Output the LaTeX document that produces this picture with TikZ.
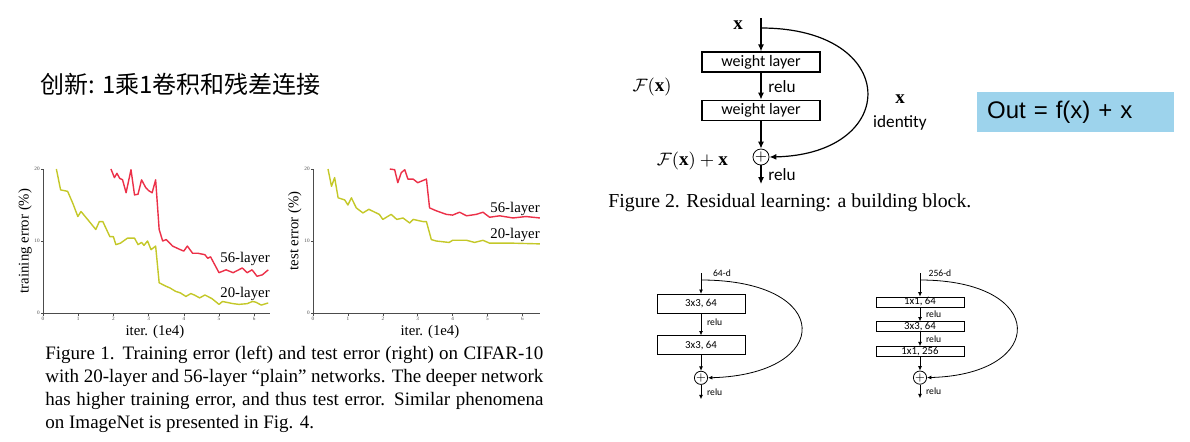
\documentclass[tikz,border=0pt]{standalone}
\usepackage{fontspec}
\setmainfont{Liberation Serif}
\setsansfont{Carlito}
\newfontfamily\cjkfont{Noto Sans CJK SC}
\newfontfamily\arialfont{Liberation Sans}
\definecolor{errred}{RGB}{236,48,72}
\definecolor{erryellow}{RGB}{196,200,40}
\definecolor{outblue}{RGB}{157,211,236}
\usetikzlibrary{arrows.meta,positioning}

\begin{document}
\begin{tikzpicture}[x=0.5pt, y=-0.5pt,
  wbox/.style={draw, line width=0.6pt, minimum width=59pt, minimum height=10pt, inner sep=0pt, font=\sffamily\fontsize{8}{9}\selectfont},
  sbox/.style={draw, line width=0.4pt, minimum width=44pt, inner sep=0pt, font=\sffamily\fontsize{5.4}{6}\selectfont},
  addc/.style={draw, circle, inner sep=0pt},
  flow/.style={-{Latex[length=3.5pt,width=3pt]}, line width=0.6pt},
  sflow/.style={-{Latex[length=2.2pt,width=2pt]}, line width=0.4pt},
  lbl/.style={font=\sffamily\fontsize{8.6}{9}\selectfont},
  slbl/.style={font=\sffamily\fontsize{4.8}{5}\selectfont, inner sep=0pt},
  mlbl/.style={font=\fontsize{9.5}{10}\selectfont},
  curve20/.style={erryellow, line width=0.7pt, line join=round},
  curve56/.style={errred, line width=0.7pt, line join=round},
  axisline/.style={black!70, line width=0.5pt},
  ticklbl/.style={font=\fontsize{2.6}{3}\selectfont, inner sep=0.6pt, black!70},
  axlbl/.style={font=\fontsize{7.4}{8}\selectfont, inner sep=0pt}]

  \path[use as bounding box, fill=white] (0,0) rectangle (1190,441);

  % title
  \node[anchor=west, inner sep=0pt, font=\cjkfont\fontsize{12}{14}\selectfont] (title) at (40,84) {创新: 1乘1卷积和残差连接};

  % training error plot
  \begin{scope}[shift={(21.5pt,-156.5pt)}, x=17.6pt, y=3.6pt]
    \draw[axisline] (0,20) -- (0,0) -- (6.45,0);
    \foreach \i in {0,...,6} {
      \draw[axisline, line width=0.3pt] (\i,0) -- (\i,-0.4);
      \node[ticklbl, below] (ltx\i) at (\i,-0.3) {\i};
    }
    \foreach \v in {0,10,20} {
      \draw[axisline, line width=0.3pt] (0,\v) -- (-0.05,\v);
      \node[ticklbl, left] (lty\v) at (-0.05,\v) {\v};
    }
    \draw[curve20] plot coordinates {(0.38,20) (0.5,17.1) (0.7,16.9) (0.85,15.2) (0.99,13.4) (1.08,14.1) (1.3,12.8) (1.5,11.6) (1.6,12.7) (1.7,12.7) (1.9,10.6) (2,10.6) (2.07,9.5) (2.2,9.7) (2.4,10.4) (2.6,10.4) (2.7,9.5) (2.8,9.8) (2.87,9.4) (2.97,10) (3.07,8.8) (3.15,9.1) (3.2,9.3) (3.3,4.2) (3.5,3.7) (3.6,3.5) (3.77,3) (3.9,2.8) (4.06,2.3) (4.2,2.7) (4.3,2.5) (4.45,2.1) (4.6,2.5) (4.8,2) (5,1.2) (5.1,1.6) (5.2,1.5) (5.4,1.3) (5.57,1.2) (5.8,1.3) (5.95,1.6) (6.05,1.5) (6.2,1.1) (6.4,1.4)};
    \draw[curve56] plot coordinates {(1.93,20) (2.03,18.8) (2.1,19.4) (2.18,18.7) (2.26,18.5) (2.36,16.7) (2.43,18.3) (2.5,19.9) (2.6,16.4) (2.7,16.5) (2.8,18.5) (2.92,17.4) (3.0,17) (3.1,16.7) (3.2,18.5) (3.3,11.6) (3.4,10) (3.5,10.2) (3.68,9.3) (3.9,8.8) (4.0,8.6) (4.1,9.3) (4.25,8.3) (4.4,8.3) (4.6,8.1) (4.68,7.6) (4.76,7.8) (5,5.6) (5.2,6) (5.4,5.6) (5.66,6.25) (5.8,5.6) (5.94,6) (6.08,5.1) (6.23,5.3) (6.4,6)};
    \node[axlbl, rotate=90] (lylab) at (-0.51,10) {training error (\%)};
    \node[axlbl] (lxlab) at (3.18,-2.64) {iter. (1e4)};
    \node[axlbl] (l56) at (5.74,7.5) {56-layer};
    \node[axlbl] (l20) at (5.74,2.64) {20-layer};
  \end{scope}

  % test error plot
  \begin{scope}[shift={(156.5pt,-156.5pt)}, x=17.45pt, y=3.6pt]
    \draw[axisline] (0,20) -- (0,0) -- (6.5,0);
    \foreach \i in {0,...,6} {
      \draw[axisline, line width=0.3pt] (\i,0) -- (\i,-0.4);
      \node[ticklbl, below] (rtx\i) at (\i,-0.3) {\i};
    }
    \foreach \v in {0,10,20} {
      \draw[axisline, line width=0.3pt] (0,\v) -- (-0.05,\v);
      \node[ticklbl, left] (rty\v) at (-0.05,\v) {\v};
    }
    \draw[curve56] plot coordinates {(2.2,20) (2.34,19.9) (2.43,18.1) (2.53,19.5) (2.63,19.9) (2.72,18.6) (2.87,18.6) (3.0,18.1) (3.1,18.3) (3.25,18.6) (3.34,14.6) (3.53,14.2) (3.82,13.7) (4.0,13.6) (4.2,14) (4.4,13.5) (4.68,13.7) (4.87,14) (5.06,13.3) (5.35,13.5) (5.73,13.2) (6.1,13.4) (6.5,13.2)};
    \draw[curve20] plot coordinates {(0.43,20) (0.53,17.6) (0.62,18.8) (0.72,16) (0.91,15.7) (1.0,15) (1.1,16) (1.24,14.6) (1.43,13.9) (1.6,14.4) (1.9,13.7) (2.0,13) (2.24,13.7) (2.4,13) (2.58,13.2) (2.77,12.5) (2.87,13) (3.15,12.7) (3.25,12.7) (3.39,10.2) (3.53,10) (3.9,9.8) (4.0,10.1) (4.4,10.1) (4.63,9.8) (4.87,10.1) (5.06,9.7) (5.73,9.7) (6.5,9.6)};
    \node[axlbl, rotate=90] (rylab) at (-0.52,11.4) {test error (\%)};
    \node[axlbl] (rxlab) at (3.35,-2.64) {iter. (1e4)};
    \node[axlbl] (r56) at (5.79,14.44) {56-layer};
    \node[axlbl] (r20) at (5.79,10.83) {20-layer};
  \end{scope}

  % figure 1 caption
  \node[anchor=base west, text width=249pt, align=justify, inner sep=0pt, font=\fontsize{9.5}{11.5}\selectfont] (cap1) at (45,359) {Figure 1. Training error (left) and test error (right) on CIFAR-10\linebreak with 20-layer and 56-layer “plain” networks. The deeper network\linebreak has higher training error, and thus test error. Similar phenomena\linebreak on ImageNet is presented in Fig. 4.};

  % residual building block
  \coordinate (ftop) at (761,18);
  \coordinate (fbranch) at (761,28);
  \node[wbox] (w1) at (761,62) {weight layer};
  \node[wbox, below=13.5pt of w1] (w2) {weight layer};
  \node[addc, minimum size=7.3pt, font=\fontsize{7}{7}\selectfont, below=13.9pt of w2] (fsum) {$+$};
  \coordinate[below=9.3pt of fsum] (fout);
  \draw[flow] (ftop) -- (w1);
  \draw[flow] (w1) -- node[lbl, right] (frelu1) {relu} (w2);
  \draw[flow] (w2) -- (fsum);
  \draw[flow] (fsum) -- node[lbl, right] (frelu2) {relu} (fout);
  \draw[flow] (fbranch) .. controls (901,28) and (901,154) .. (fsum.east);
  \node[mlbl] (fxin) at (738,25) {$\mathbf{x}$};
  \node[mlbl] (fx) at (652,87) {$\mathcal{F}(\mathbf{x})$};
  \node[mlbl, anchor=east] (fxx) at (735,161) {$\mathcal{F}(\mathbf{x})+\mathbf{x}$};
  \node[mlbl] (fxid) at (900,99) {$\mathbf{x}$};
  \node[lbl] (fident) at (900,123) {identity};
  \node[anchor=base west, inner sep=0pt, font=\fontsize{9.9}{12}\selectfont] (cap2) at (608,207) {Figure 2. Residual learning: a building block.};

  % formula box
  \node[fill=outblue, anchor=west, text width=88.3pt, minimum height=19.7pt, inner xsep=5pt, inner ysep=0pt, align=left, font=\arialfont\fontsize{12}{14}\selectfont] (outeq) at (976.7,112) {Out = f(x) + x};

  % basic block
  \coordinate (atop) at (701,273);
  \coordinate (abranch) at (701,280);
  \node[sbox, minimum height=9.5pt] (a1) at (701,303.8) {3x3, 64};
  \node[sbox, minimum height=9.5pt, below=10.85pt of a1] (a2) {3x3, 64};
  \node[addc, minimum size=4.7pt, font=\fontsize{4.5}{4.5}\selectfont, below=7.8pt of a2] (asum) {$+$};
  \coordinate[below=7.2pt of asum] (aout);
  \node[slbl, anchor=west] (adim) at (712.7,272.7) {64-d};
  \draw[sflow] (atop) -- (a1);
  \draw[sflow] (a1) -- node[slbl, right=2.8pt, pos=0.4] (arelu1) {relu} (a2);
  \draw[sflow] (a2) -- (asum);
  \draw[sflow] (asum) -- node[slbl, right=2.8pt] (arelu2) {relu} (aout);
  \draw[sflow] (abranch) .. controls (834,280) and (834,374.3) .. (asum.east);

  % bottleneck block
  \coordinate (btop) at (920,273);
  \coordinate (bbranch) at (920,280);
  \node[sbox, minimum height=5pt] (b1) at (920,302) {1x1, 64};
  \node[sbox, minimum height=5pt, below=7pt of b1] (b2) {3x3, 64};
  \node[sbox, minimum height=5pt, below=7pt of b2] (b3) {1x1, 256};
  \node[addc, minimum size=4.7pt, font=\fontsize{4.5}{4.5}\selectfont, below=6.8pt of b3] (bsum) {$+$};
  \coordinate[below=6.8pt of bsum] (bout);
  \node[slbl, anchor=west] (bdim) at (928.3,273.3) {256-d};
  \draw[sflow] (btop) -- (b1);
  \draw[sflow] (b1) -- node[slbl, right=2.8pt] (brelu1) {relu} (b2);
  \draw[sflow] (b2) -- node[slbl, right=2.8pt] (brelu2) {relu} (b3);
  \draw[sflow] (b3) -- (bsum);
  \draw[sflow] (bsum) -- node[slbl, right=2.8pt] (brelu3) {relu} (bout);
  \draw[sflow] (bbranch) .. controls (1048,280) and (1048,374.3) .. (bsum.east);
\end{tikzpicture}
\end{document}
